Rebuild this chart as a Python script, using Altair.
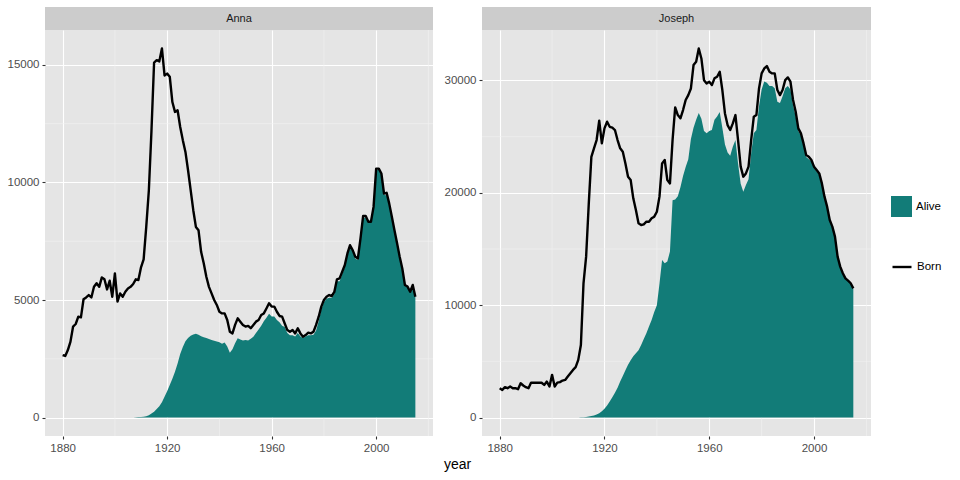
import altair as alt
import pandas as pd

FONT = "Liberation Sans"

names = ["Anna", "Joseph"]
years = list(range(1880, 2016))
alive_years = list(range(1900, 2016))

anna_born = [
    2660, 2620, 2870, 3230, 3870, 3980, 4290, 4260, 5030, 5110,
    5210, 5110, 5560, 5710, 5560, 5960, 5880, 5450, 5820, 5140,
    6130, 4930, 5280, 5140, 5350, 5490, 5560, 5680, 5880, 5850,
    6390, 6730, 8110, 9670, 12200, 15100, 15200, 15150, 15700, 14550,
    14630, 14500, 13420, 13000, 13070, 12360, 11800, 11300, 10520, 9670,
    8820, 8110, 7970, 7050, 6560, 5990, 5560, 5280, 5000, 4790,
    4500, 4430, 4430, 4150, 3650, 3580, 3940, 4220, 4080, 3940,
    3870, 3900, 3800, 3940, 4080, 4150, 4360, 4430, 4640, 4860,
    4720, 4720, 4500, 4320, 4290, 4000, 3720, 3650, 3720, 3580,
    3800, 3580, 3440, 3510, 3610, 3580, 3650, 3940, 4290, 4720,
    5000, 5140, 5210, 5170, 5350, 5880, 5920, 6200, 6490, 6980,
    7330, 7120, 6840, 6770, 7620, 8570, 8570, 8330, 8330, 8960,
    10590, 10590, 10380, 9530, 9560, 9100, 8540, 7970, 7410, 6840,
    6340, 5640, 5570, 5350, 5640, 5140,
]

anna_alive = [
    0, 0, 0, 0, 0, 0, 2, 5, 10, 18,
    28, 35, 60, 100, 170, 250, 360, 480, 650, 880,
    1120, 1380, 1650, 1950, 2300, 2700, 3000, 3250, 3380, 3480,
    3530, 3560, 3520, 3460, 3420, 3380, 3340, 3300, 3270, 3240,
    3200, 3140, 3190, 3020, 2760, 2900, 3160, 3370, 3320, 3280,
    3300, 3280, 3350, 3440, 3600, 3750, 3900, 4100, 4250, 4420,
    4300, 4300, 4150, 4050, 3900, 3850, 3600, 3500, 3500, 3450,
    3600, 3450, 3380, 3450, 3500, 3500, 3520, 3700, 4100, 4600,
    4900, 5050, 5100, 5100, 5250, 5800, 5800, 6100, 6400, 6900,
    7250, 7050, 6750, 6700, 7550, 8500, 8500, 8280, 8300, 8900,
    10520, 10550, 10330, 9480, 9450, 9060, 8500, 7940, 7380, 6810,
    6320, 5620, 5550, 5340, 5630, 5130,
]

joseph_born = [
    2610, 2460, 2700, 2610, 2760, 2610, 2610, 2520, 3050, 2850,
    2700, 2610, 3110, 3100, 3100, 3100, 3100, 2900, 3200, 2760,
    3800, 2760, 3110, 3150, 3290, 3350, 3650, 3940, 4240, 4480,
    5130, 6460, 11950, 14320, 19000, 23200, 23950, 24700, 26420, 24400,
    25740, 26330, 25880, 25800, 25590, 24700, 23960, 23660, 22620, 21440,
    21140, 19510, 18470, 17290, 17140, 17200, 17430, 17430, 17730, 17880,
    18320, 19660, 22620, 22920, 21140, 20840, 24700, 27600, 26920, 26630,
    27370, 28260, 28700, 29290, 31370, 31670, 32850, 31960, 30030, 29740,
    29880, 29590, 30190, 30330, 30780, 29150, 27070, 26030, 25590, 26180,
    26920, 24700, 22330, 21440, 21730, 22330, 24700, 26770, 26920, 29290,
    30630, 31070, 31280, 30780, 30630, 30630, 29150, 28700, 29150, 30030,
    30270, 29890, 28260, 27220, 25740, 25290, 24400, 23370, 23220, 22920,
    22330, 22030, 21730, 20840, 19660, 18770, 17580, 16990, 16100, 14320,
    13430, 12840, 12390, 12190, 11950, 11500,
]

joseph_alive = [
    0, 0, 0, 0, 0, 0, 0, 0, 0, 5,
    10, 20, 35, 55, 85, 130, 190, 270, 390, 560,
    780, 1080, 1420, 1800, 2200, 2650, 3200, 3700, 4200, 4700,
    5100, 5450, 5720, 6000, 6450, 7000, 7500, 8100, 8690, 9400,
    10000, 11900, 14030, 13730, 13880, 14770, 19350, 19400, 19700, 20500,
    21500, 22300, 23000, 24800, 25800, 26500, 27100, 26600, 25500, 25300,
    25500, 25600, 26500, 26800, 27200, 25800, 24300, 23600, 23300, 24100,
    24700, 22600, 20800, 20100, 20700, 21200, 23500, 25300, 25600, 27700,
    29200, 29900, 29800, 29500, 29500, 29300, 28100, 28000, 28600, 29300,
    29500, 29200, 27800, 26800, 25500, 25100, 24200, 23200, 23000, 22800,
    22200, 21900, 21600, 20700, 19550, 18680, 17500, 16920, 16040, 14270,
    13390, 12800, 12360, 12160, 11920, 11470,
]

x_ticks = [1880, 1920, 1960, 2000]
x_minor = [1900, 1940, 1980, 2020]
y_ticks = {"Anna": [0, 5000, 10000, 15000], "Joseph": [0, 10000, 20000, 30000]}
y_minor = {"Anna": [2500, 7500, 12500], "Joseph": [5000, 15000, 25000]}

TEAL = "#127C78"
PANEL_H = 406
STRIP_H = 23


def panel(name, born, alive, width):
    ymax = max(max(born), max(alive))
    pad = 0.05 * ymax
    born_df = pd.DataFrame({"year": years, "n": born, "key": "Born"})
    alive_df = pd.DataFrame({"year": alive_years, "n": alive, "key": "Alive"})
    xminor_df = pd.DataFrame({"year": x_minor})
    yminor_df = pd.DataFrame({"n": y_minor[name]})

    X = alt.X(
        "year:Q",
        scale=alt.Scale(domain=[1873.25, 2021.75], nice=False, zero=False),
        axis=alt.Axis(values=x_ticks, title=None, format="d", grid=True),
    )
    Y = alt.Y(
        "n:Q",
        scale=alt.Scale(domain=[-pad, ymax + pad], nice=False, zero=False),
        axis=alt.Axis(values=y_ticks[name], title=None, format="d", grid=True),
    )

    minor_x = alt.Chart(xminor_df).mark_rule(color="#F2F2F2", strokeWidth=0.6).encode(x=X)
    minor_y = alt.Chart(yminor_df).mark_rule(color="#F2F2F2", strokeWidth=0.6).encode(y=Y)

    area = alt.Chart(alive_df).mark_area(opacity=1).encode(
        x=X,
        y=Y,
        y2=alt.datum(0),
        fill=alt.Fill(
            "key:N",
            scale=alt.Scale(domain=["Alive"], range=[TEAL]),
            legend=alt.Legend(
                title=None, orient="none", legendX=846, legendY=166,
                symbolType="square", symbolSize=441, symbolStrokeWidth=0,
                symbolOpacity=1, labelFontSize=11.5, labelFont=FONT,
                labelColor="black", labelOffset=4,
            ),
        ),
    )
    line = alt.Chart(born_df).mark_line(strokeWidth=2.4, strokeJoin="round").encode(
        x=X,
        y=Y,
        stroke=alt.Stroke(
            "key:N",
            scale=alt.Scale(domain=["Born"], range=["black"]),
            legend=alt.Legend(
                title=None, orient="none", legendX=846, legendY=226,
                symbolType="stroke", symbolSize=361, symbolStrokeWidth=2.4,
                labelFontSize=11.5, labelFont=FONT, labelColor="black",
                labelOffset=4,
            ),
        ),
    )

    strip_df = pd.DataFrame({"name": [name]})
    strip = alt.Chart(strip_df).mark_rect(color="#CCCCCC").encode(
        x=alt.value(0), x2=alt.value(width),
        y=alt.value(-STRIP_H), y2=alt.value(0),
    )
    strip_text = alt.Chart(strip_df).mark_text(
        font=FONT, fontSize=11, color="#1A1A1A", baseline="middle", align="center"
    ).encode(
        x=alt.value(width / 2), y=alt.value(-STRIP_H / 2), text="name:N"
    )

    return alt.layer(minor_x, minor_y, area, line, strip, strip_text).properties(
        width=width, height=PANEL_H
    )


chart = alt.hconcat(
    panel("Anna", anna_born, anna_alive, 388),
    panel("Joseph", joseph_born, joseph_alive, 389),
    spacing=10,
).resolve_scale(x="independent", y="independent").properties(
    padding={"left": 7, "top": 7, "right": 2, "bottom": 2},
    title=alt.Title(
        "year", orient="bottom", anchor="start", fontSize=14, font=FONT,
        fontWeight="normal", color="black", dx=437, offset=4,
    ),
).configure_view(
    fill="#E5E5E5", strokeWidth=0
).configure_axis(
    domain=False,
    gridColor="white",
    gridWidth=1.1,
    tickColor="#333333",
    tickSize=3,
    tickWidth=1.1,
    labelColor="#4D4D4D",
    labelFont=FONT,
    labelFontSize=11.5,
    labelPadding=3,
).configure_legend(
    padding=0
)

chart.save("out.html", embed_options={"renderer": "svg", "actions": False})
